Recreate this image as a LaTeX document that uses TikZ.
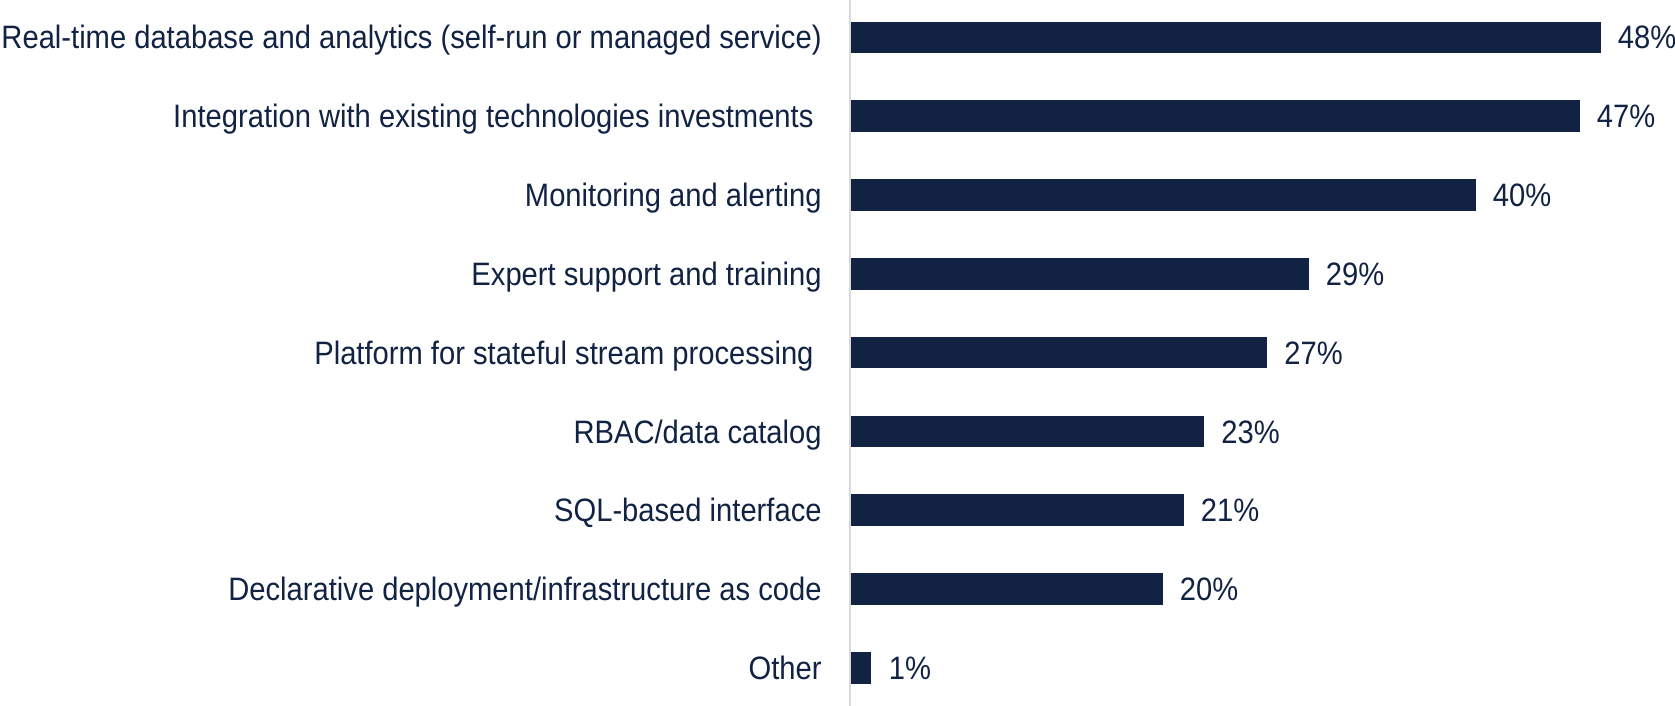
\documentclass[tikz,border=0pt]{standalone}
\usepackage{fontspec}
\setmainfont{Liberation Sans}[FakeStretch=0.9]
\usetikzlibrary{positioning}

\definecolor{barnavy}{RGB}{17,34,67}
\definecolor{axisgrey}{RGB}{217,217,217}

\tikzset{every picture/.style={line width=0.9pt}}
\tikzset{
  bar/.style={fill=barnavy, draw=none},
  catlabel/.style={anchor=base east, inner sep=0pt, text=barnavy, font=\fontsize{16.2}{19}\selectfont},
  pctlabel/.style={anchor=base west, inner sep=0pt, text=barnavy, font=\fontsize{16.2}{19}\selectfont}
}

\begin{document}
\begin{tikzpicture}[x=0.5pt,y=0.5pt,yscale=-1]
\useasboundingbox (0,0) rectangle (1675,706);

%Straight Lines
\draw [axisgrey, line width=1pt] (850,0) -- (850,706) ;

%Shape: Rectangle
\fill [bar] (851,21.6) rectangle (1601,53.2) ;
%Shape: Rectangle
\fill [bar] (851,100.4) rectangle (1580,132) ;
%Shape: Rectangle
\fill [bar] (851,179.2) rectangle (1475.7,210.8) ;
%Shape: Rectangle
\fill [bar] (851,258) rectangle (1308.7,289.6) ;
%Shape: Rectangle
\fill [bar] (851,336.8) rectangle (1267,368.4) ;
%Shape: Rectangle
\fill [bar] (851,415.6) rectangle (1204.3,447.2) ;
%Shape: Rectangle
\fill [bar] (851,494.4) rectangle (1183.7,526) ;
%Shape: Rectangle
\fill [bar] (851,573.2) rectangle (1162.7,604.8) ;
%Shape: Rectangle
\fill [bar] (851,652) rectangle (870.7,683.6) ;

% Text Node
\node [catlabel] (cat1) at (822.5,49) {Real-time database and analytics (self-run or managed service)};
% Text Node
\node [catlabel] (cat2) at (822.5,127.8) {Integration with existing technologies investments\ \null};
% Text Node
\node [catlabel] (cat3) at (822.5,206.6) {Monitoring and alerting};
% Text Node
\node [catlabel] (cat4) at (822.5,285.4) {Expert support and training};
% Text Node
\node [catlabel] (cat5) at (822.5,364.2) {Platform for stateful stream processing\ \null};
% Text Node
\node [catlabel] (cat6) at (822.5,443) {RBAC/data catalog};
% Text Node
\node [catlabel] (cat7) at (822.5,521.8) {SQL-based interface};
% Text Node
\node [catlabel] (cat8) at (822.5,600.6) {Declarative deployment/infrastructure as code};
% Text Node
\node [catlabel] (cat9) at (822.5,679.4) {Other};

% Text Node
\node [pctlabel] (pct1) at (1617,49) {48\%};
% Text Node
\node [pctlabel] (pct2) at (1596,127.8) {47\%};
% Text Node
\node [pctlabel] (pct3) at (1492,206.6) {40\%};
% Text Node
\node [pctlabel] (pct4) at (1325,285.4) {29\%};
% Text Node
\node [pctlabel] (pct5) at (1283.5,364.2) {27\%};
% Text Node
\node [pctlabel] (pct6) at (1220.5,443) {23\%};
% Text Node
\node [pctlabel] (pct7) at (1200,521.8) {21\%};
% Text Node
\node [pctlabel] (pct8) at (1179,600.6) {20\%};
% Text Node
\node [pctlabel] (pct9) at (888,679.4) {1\%};

\end{tikzpicture}
\end{document}
